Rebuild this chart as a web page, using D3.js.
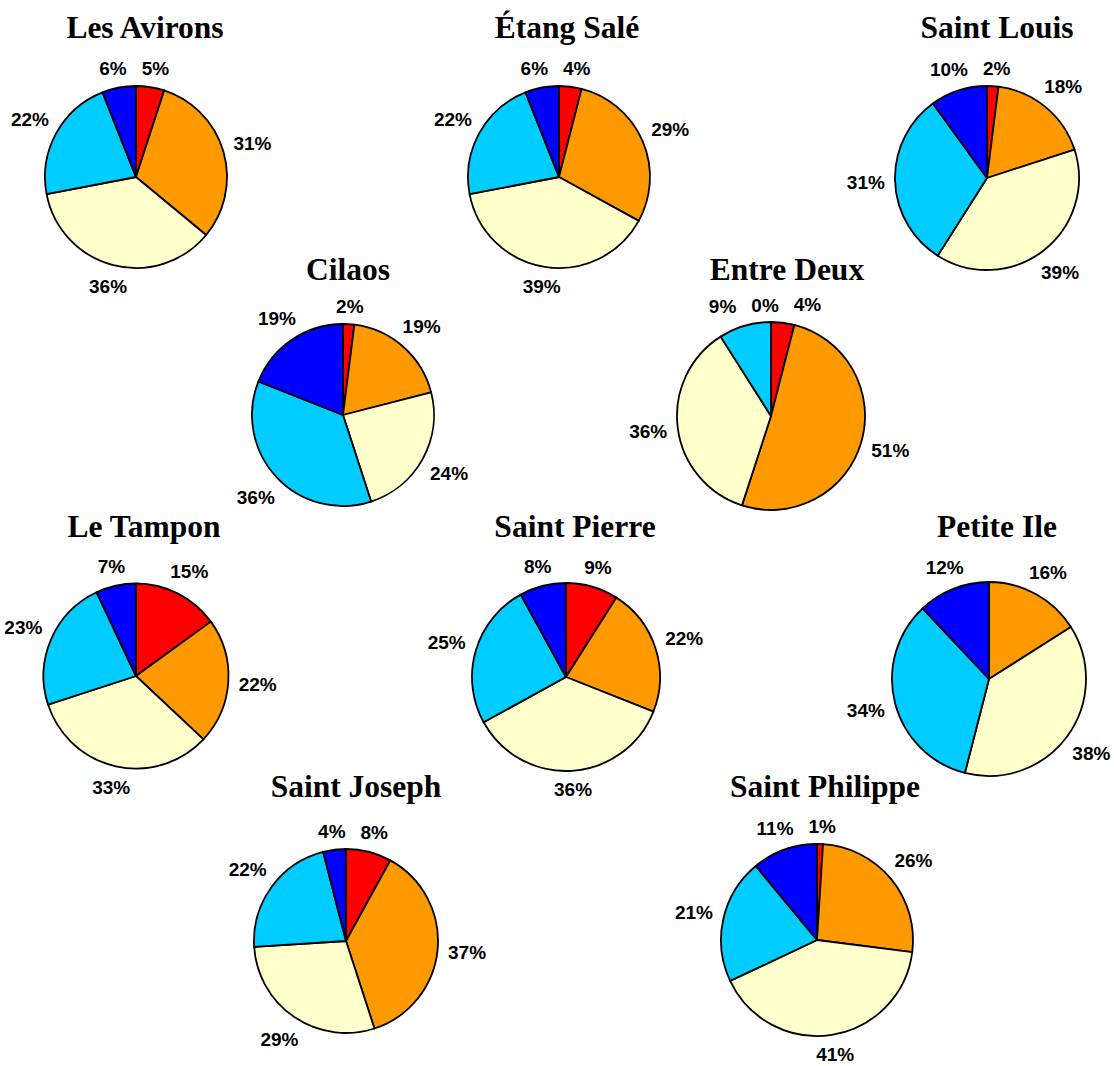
<!DOCTYPE html>
<html>
<head>
<meta charset="utf-8">
<script src="https://cdn.jsdelivr.net/npm/d3@7"></script>
<style>
  body { margin: 0; background: #fff; }
</style>
</head>
<body>
<div id="chart"></div>
<script>
// communes, in drawing order
const communes = ["Les Avirons", "Étang Salé", "Saint Louis", "Cilaos", "Entre Deux",
    "Le Tampon", "Saint Pierre", "Petite Ile", "Saint Joseph", "Saint Philippe"];

// share of each class per commune (%), null = no slice
const classe1 = [5, 4, 2, 2, 4, 15, 9, null, 8, 1];
const classe2 = [31, 29, 18, 19, 51, 22, 22, 16, 37, 26];
const classe3 = [36, 39, 39, 24, 36, 33, 36, 38, 29, 41];
const classe4 = [22, 22, 31, 36, 9, 23, 25, 34, 22, 21];
const classe5 = [6, 6, 10, 19, 0, 7, 8, 12, 4, 11];

const classes = ["Classe 1", "Classe 2", "Classe 3", "Classe 4", "Classe 5"];
const colors = ["#ff0000", "#ff9900", "#ffffcc", "#00ccff", "#0000ff"];

// where each pie sits on the page
const layout = [
    { cx: 136, cy: 177, r: 91, tx: 145, ty: 38 },
    { cx: 559, cy: 177, r: 91, tx: 567, ty: 38 },
    { cx: 987, cy: 178, r: 92, tx: 997, ty: 38 },
    { cx: 343, cy: 415, r: 91, tx: 348, ty: 280 },
    { cx: 771, cy: 416, r: 94, tx: 787, ty: 280 },
    { cx: 136, cy: 676, r: 92.5, tx: 144, ty: 537 },
    { cx: 566, cy: 677, r: 94, tx: 575, ty: 537 },
    { cx: 989, cy: 679, r: 97, tx: 997, ty: 537 },
    { cx: 346, cy: 941, r: 92, tx: 356, ty: 797 },
    { cx: 817, cy: 940, r: 96, tx: 825, ty: 797 }
];

const width = 1114;
const height = 1066;

const svg = d3.select("#chart").append("svg")
    .attr("width", width)
    .attr("height", height);

const pie = d3.pie()
    .sort(null)
    .value(d => d.value === null ? 0 : d.value);

const labelH = 14;

communes.forEach((name, i) => {
    const L = layout[i];
    const values = [classe1[i], classe2[i], classe3[i], classe4[i], classe5[i]]
        .map((v, k) => ({ key: classes[k], value: v, color: colors[k] }));

    svg.append("text")
        .attr("x", L.tx)
        .attr("y", L.ty)
        .attr("text-anchor", "middle")
        .style("font-family", "'Liberation Serif', 'Times New Roman', serif")
        .style("font-weight", "bold")
        .style("font-size", "31.5px")
        .text(name);

    const arc = d3.arc().innerRadius(0).outerRadius(L.r);
    const g = svg.append("g")
        .attr("transform", "translate(" + L.cx + "," + L.cy + ")");

    const arcs = pie(values);

    g.selectAll("path")
        .data(arcs)
        .enter()
        .append("path")
        .attr("d", arc)
        .attr("fill", d => d.data.color)
        .attr("stroke", "#000")
        .attr("stroke-width", 1.8)
        .attr("stroke-linejoin", "round");

    // labels: place box just outside the rim at the slice's mid angle
    const labels = g.selectAll("text.lbl")
        .data(arcs.filter(d => d.data.value !== null))
        .enter()
        .append("text")
        .attr("class", "lbl")
        .attr("text-anchor", "middle")
        .attr("dy", "0.36em")
        .style("font-family", "'Liberation Sans', Arial, sans-serif")
        .style("font-weight", "bold")
        .style("font-size", "19px")
        .text(d => d.data.value + "%");

    const pos = [];
    labels.each(function (d) {
        const w = this.getComputedTextLength();
        const a = (d.startAngle + d.endAngle) / 2;
        const s = Math.sin(a), c = Math.cos(a);
        const dist = L.r + 10 + Math.abs(s) * w / 2 + Math.abs(c) * labelH / 2;
        pos.push({ x: s * dist, y: -c * dist, w: w });
    });

    // push overlapping labels apart sideways
    for (let it = 0; it < 40; it++) {
        for (let a = 0; a < pos.length; a++) {
            for (let b = a + 1; b < pos.length; b++) {
                const p = pos[a], q = pos[b];
                if (Math.abs(p.y - q.y) > labelH + 4) continue;
                const need = (p.w + q.w) / 2 + 15;
                const gap = Math.abs(p.x - q.x);
                if (gap < need) {
                    const push = (need - gap) / 2;
                    if (p.x <= q.x) { p.x -= push; q.x += push; }
                    else { p.x += push; q.x -= push; }
                }
            }
        }
    }

    labels.attr("x", (d, k) => pos[k].x)
        .attr("y", (d, k) => pos[k].y);
});
</script>
</body>
</html>
